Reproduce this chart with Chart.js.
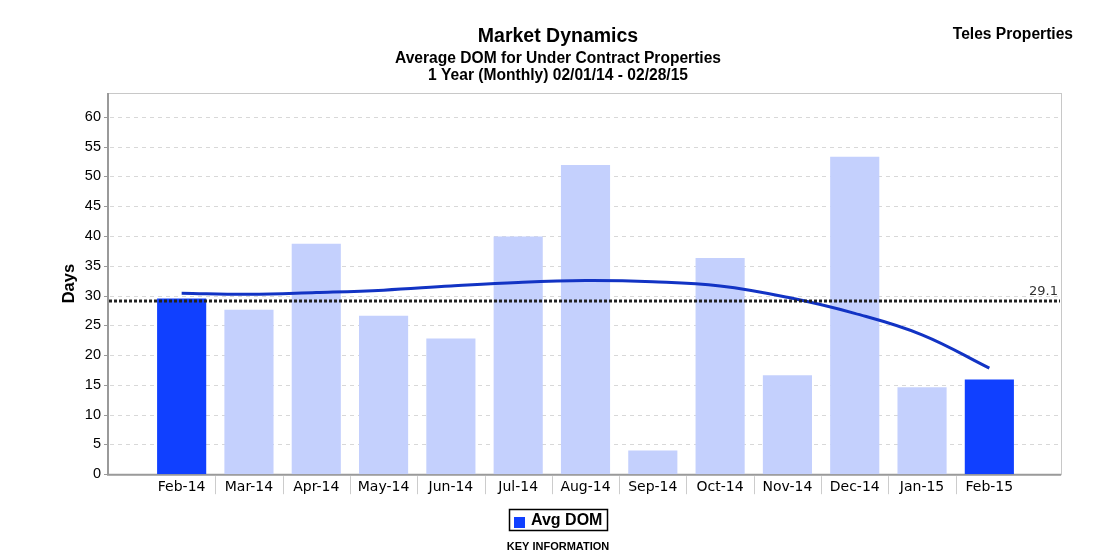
<!DOCTYPE html>
<html>
<head>
<meta charset="utf-8">
<script src="https://cdn.jsdelivr.net/npm/chart.js@4/dist/chart.umd.min.js"></script>
<style>
  html, body { margin: 0; padding: 0; background: #fff; }
  #wrap { width: 1115px; height: 560px; position: relative; }
</style>
</head>
<body>
<div id="wrap"><canvas id="chart" width="1115" height="560"></canvas></div>
<script>
// chart data
var months = ['Feb-14', 'Mar-14', 'Apr-14', 'May-14', 'Jun-14', 'Jul-14', 'Aug-14',
              'Sep-14', 'Oct-14', 'Nov-14', 'Dec-14', 'Jan-15', 'Feb-15'];
var avgDom = [29.5, 27.6, 38.7, 26.6, 22.8, 39.9, 51.9, 4.0, 36.3, 16.6, 53.3, 14.6, 15.9];
var trendDom = [30.4, 30.2, 30.5, 30.9, 31.6, 32.2, 32.5, 32.3, 31.6, 29.7, 27.0, 23.4, 17.8];
var periodAverage = 29.1;
var yTicks = [0, 5, 10, 15, 20, 25, 30, 35, 40, 45, 50, 55, 60];

var DARK = '#1040ff';
var LIGHT = '#c4d0fd';

// frame goes a bit wider than the category bands
var FRAME_LEFT = 108, FRAME_RIGHT = 1061;

var framePlugin = {
	id: 'frame',
	beforeDatasetsDraw: function(chart) {
		var ctx = chart.ctx, y = chart.scales.y, x = chart.scales.x;
		var top = chart.chartArea.top, bottom = chart.chartArea.bottom;
		ctx.save();
		// dashed horizontal grid
		ctx.strokeStyle = '#d8d8d8';
		ctx.lineWidth = 1;
		ctx.setLineDash([4, 4]);
		yTicks.forEach(function(v) {
			if (v === 0) return;
			var py = Math.round(y.getPixelForValue(v)) + 0.5;
			ctx.beginPath();
			ctx.moveTo(FRAME_LEFT + 2, py);
			ctx.lineTo(FRAME_RIGHT - 1, py);
			ctx.stroke();
		});
		ctx.setLineDash([]);
		// small ticks left of axis
		ctx.strokeStyle = '#999';
		yTicks.forEach(function(v) {
			var py = Math.round(y.getPixelForValue(v)) + 0.5;
			ctx.beginPath();
			ctx.moveTo(FRAME_LEFT - 4, py);
			ctx.lineTo(FRAME_LEFT, py);
			ctx.stroke();
		});
		// frame
		ctx.strokeStyle = '#c8c8c8';
		ctx.strokeRect(FRAME_LEFT + 0.5, top + 0.5, FRAME_RIGHT - FRAME_LEFT, bottom - top);
		ctx.strokeStyle = '#9a9a9a';
		ctx.lineWidth = 2;
		ctx.beginPath();
		ctx.moveTo(FRAME_LEFT, top);
		ctx.lineTo(FRAME_LEFT, bottom + 0.5);
		ctx.lineTo(FRAME_RIGHT, bottom + 0.5);
		ctx.stroke();
		// separators between month labels
		ctx.lineWidth = 1;
		ctx.strokeStyle = '#cccccc';
		for (var i = 1; i < months.length; i++) {
			var px = Math.round((x.getPixelForValue(i - 1) + x.getPixelForValue(i)) / 2) + 0.5;
			ctx.beginPath();
			ctx.moveTo(px, bottom + 2);
			ctx.lineTo(px, bottom + 20);
			ctx.stroke();
		}
		ctx.restore();
	},
	afterDatasetsDraw: function(chart) {
		var ctx = chart.ctx, y = chart.scales.y;
		var py = Math.round(y.getPixelForValue(periodAverage));
		ctx.save();
		ctx.strokeStyle = '#222';
		ctx.lineWidth = 3;
		ctx.setLineDash([3, 2]);
		ctx.beginPath();
		ctx.moveTo(FRAME_LEFT + 1, py);
		ctx.lineTo(FRAME_RIGHT - 1, py);
		ctx.stroke();
		ctx.setLineDash([]);
		ctx.fillStyle = '#333';
		ctx.font = '13px "DejaVu Sans"';
		ctx.textAlign = 'right';
		ctx.textBaseline = 'bottom';
		ctx.fillText(periodAverage.toFixed(1), FRAME_RIGHT - 3, py - 3);
		ctx.restore();
	},
	afterDraw: function(chart) {
		var ctx = chart.ctx;
		var cx = 558;
		ctx.save();
		ctx.fillStyle = '#000';
		ctx.textAlign = 'center';
		ctx.textBaseline = 'middle';
		ctx.font = 'bold 19.5px "Liberation Sans"';
		ctx.fillText('Market Dynamics', cx, 37);
		ctx.font = 'bold 15.6px "Liberation Sans"';
		ctx.fillText('Average DOM for Under Contract Properties', cx, 59);
		ctx.fillText('1 Year (Monthly) 02/01/14 - 02/28/15', cx, 76);
		ctx.font = 'bold 15.6px "Liberation Sans"';
		ctx.textAlign = 'right';
		ctx.fillText('Teles Properties', 1073, 35);
		// legend box
		ctx.strokeStyle = '#000';
		ctx.lineWidth = 1.5;
		ctx.strokeRect(509.5, 509.5, 98, 21);
		ctx.fillStyle = DARK;
		ctx.fillRect(514, 517, 11, 11);
		ctx.fillStyle = '#000';
		ctx.textAlign = 'left';
		ctx.font = 'bold 16px "Liberation Sans"';
		ctx.fillText('Avg DOM', 531, 521);
		ctx.textAlign = 'center';
		ctx.font = 'bold 11px "Liberation Sans"';
		ctx.fillText('KEY INFORMATION', 558, 547);
		ctx.restore();
	}
};

var chart = new Chart(document.getElementById('chart').getContext('2d'), {
	data: {
		labels: months,
		datasets: [
			{
				type: 'line',
				label: 'Trend',
				data: trendDom,
				borderColor: '#1233c4',
				borderWidth: 3,
				pointRadius: 0,
				tension: 0.4,
				fill: false,
				order: 0
			},
			{
				type: 'bar',
				label: 'Avg DOM',
				data: avgDom,
				backgroundColor: function(c) {
					return (c.dataIndex === 0 || c.dataIndex === months.length - 1) ? DARK : LIGHT;
				},
				categoryPercentage: 1,
				barPercentage: 0.73,
				order: 1
			}
		]
	},
	options: {
		responsive: false,
		animation: false,
		layout: { padding: { left: 54, right: 92, top: 93, bottom: 59 } },
		plugins: {
			legend: { display: false },
			tooltip: { enabled: false },
			title: { display: false }
		},
		scales: {
			x: {
				offset: true,
				grid: { display: false, drawTicks: false },
				border: { display: false },
				ticks: {
					color: '#000',
					font: { family: '"DejaVu Sans"', size: 14 },
					padding: 5,
					maxRotation: 0,
					autoSkip: false
				}
			},
			y: {
				min: 0,
				max: 64,
				grid: { display: false, drawTicks: false },
				border: { display: false },
				afterBuildTicks: function(scale) {
					scale.ticks = yTicks.map(function(v) { return { value: v }; });
				},
				afterFit: function(scale) { scale.width = 94; },
				ticks: {
					color: '#000',
					font: { family: '"Liberation Sans"', size: 14.5 },
					padding: 47
				},
				title: {
					display: true,
					text: 'Days',
					color: '#000',
					font: { family: '"Liberation Sans"', size: 16.5, weight: 'bold' },
					padding: { top: 6, bottom: 0 }
				}
			}
		}
	},
	plugins: [framePlugin]
});
</script>
</body>
</html>
